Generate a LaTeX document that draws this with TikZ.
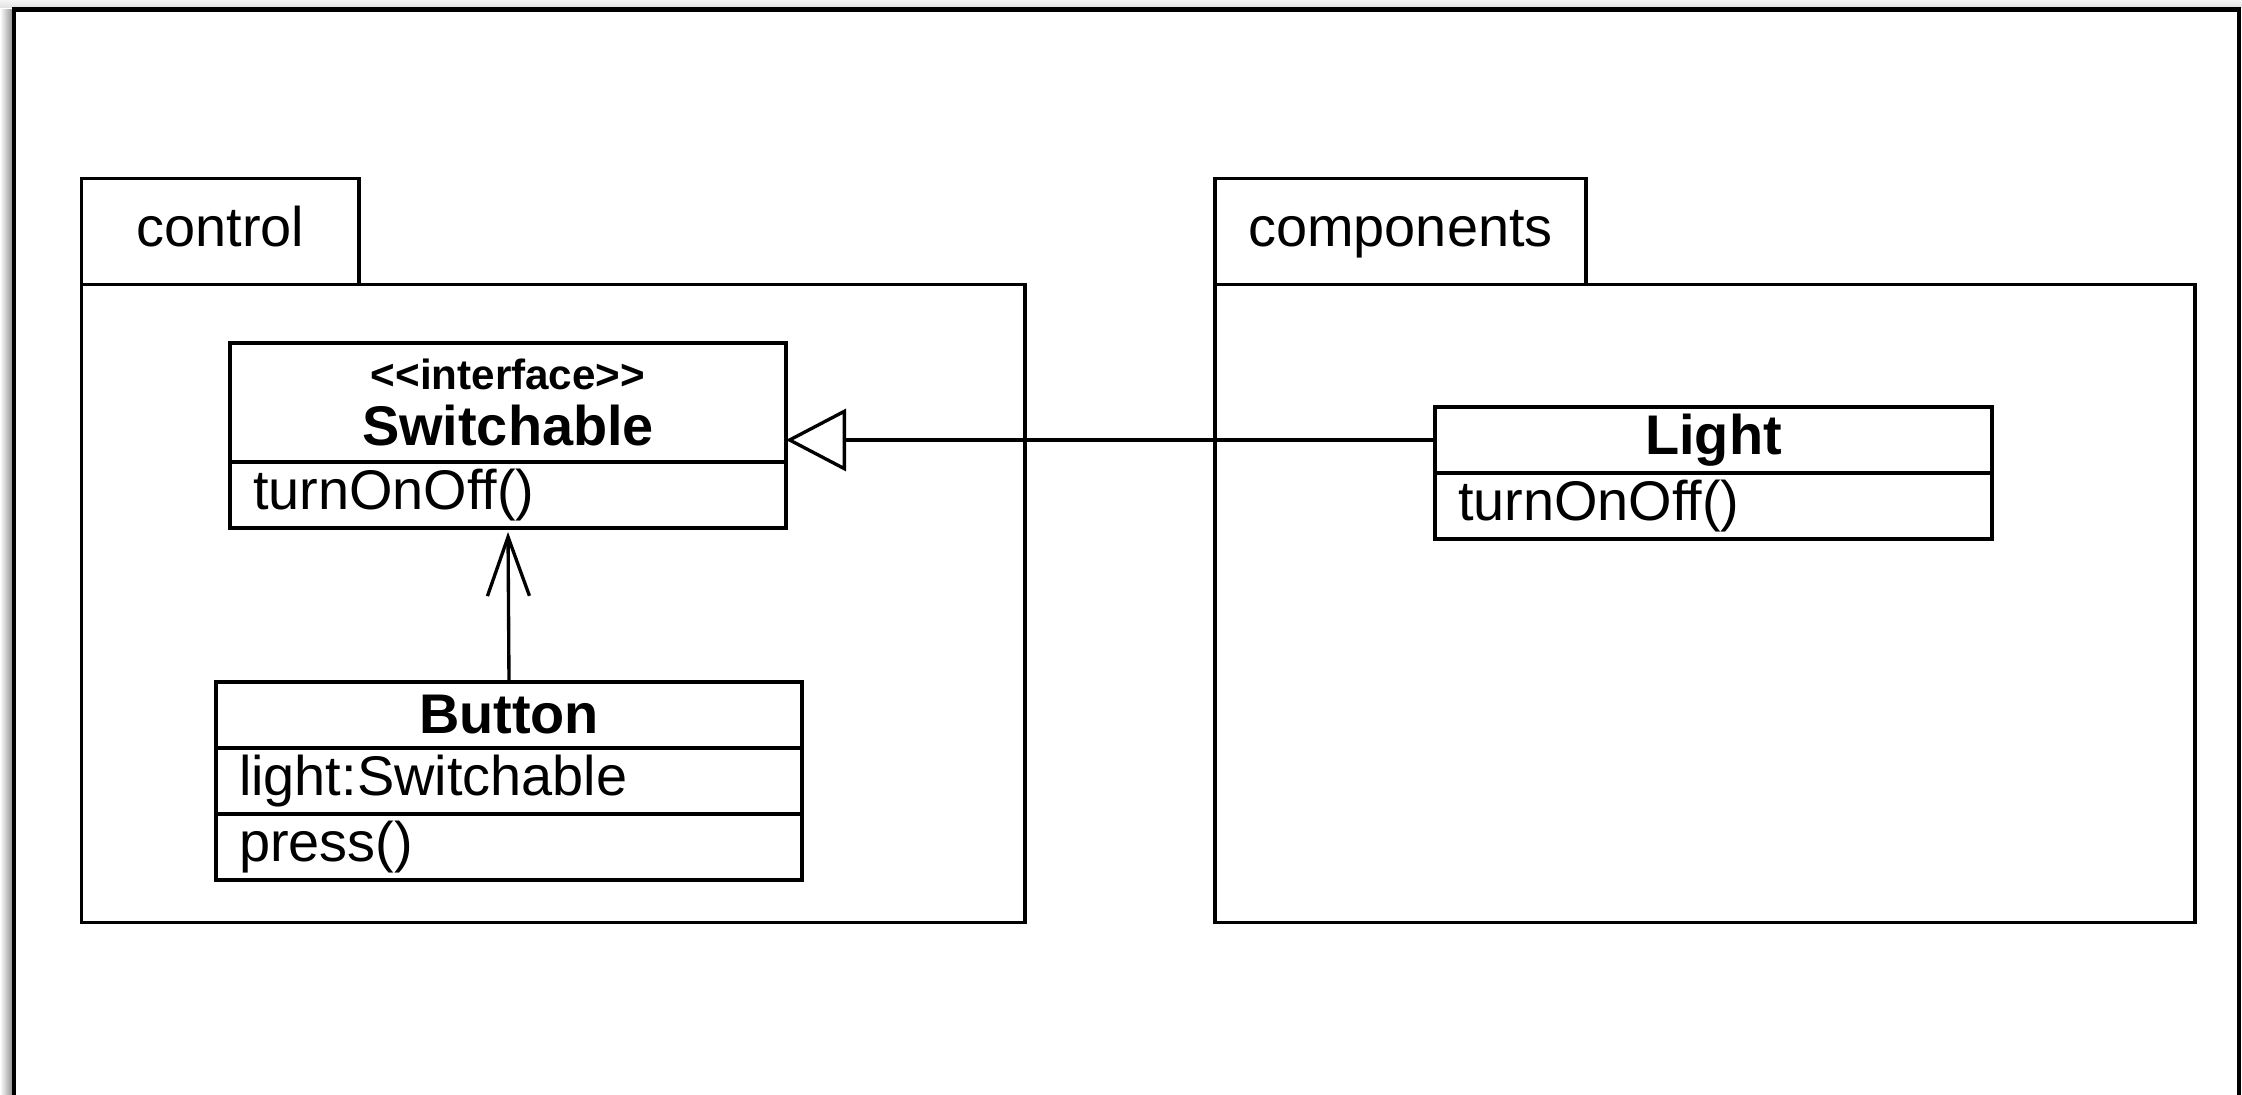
\documentclass[tikz,border=0pt]{standalone}
\usepackage{fontspec}
\setmainfont{Liberation Sans}
\usetikzlibrary{positioning,arrows.meta}

\begin{document}
\begin{tikzpicture}[
  box/.style={draw, line width=0.95pt, inner sep=0pt, outer sep=0pt, font=\fontsize{15.9}{16}\selectfont},
  pkgtab/.style={box, minimum width=#1, minimum height=1.06cm, text height=0.41cm, text depth=0.12cm},
  pkgbody/.style={box, minimum width=#1, minimum height=6.375cm, anchor=north west},
  clshead/.style={box, font=\fontsize{15.9}{16}\selectfont\bfseries, align=center, minimum width=#1, minimum height=0.66cm},
  clsrow/.style={box, inner xsep=0.23cm, text width=#1, align=left, minimum height=0.66cm},
  gen/.style={line width=0.95pt, -{Triangle[open, length=0.6cm, width=0.62cm]}},
  dep/.style={line width=0.95pt, shorten >=0.04cm, -{Straight Barb[length=0.59cm, width=0.42cm]}}
]
\useasboundingbox (0,0) rectangle (22.42,-10.95);

% frame
\shade[left color=white, right color=black!45] (0,-0.1) rectangle (0.13,-10.95);
\shade[top color=black!4, bottom color=black!12] (0,0) rectangle (22.42,-0.08);
\draw[line width=1.4pt] (0.14,-11.5) |- (22.39,-0.095) -- (22.39,-11.5);

% package control
\node[pkgtab=2.775cm, anchor=north west] (ctrltab) at (0.815,-1.787) {control};
\node[pkgbody=9.435cm] (ctrlbody) at (ctrltab.south west) {};

% package components
\node[pkgtab=3.71cm, anchor=north west] (comptab) at (12.15,-1.787) {components};
\node[pkgbody=9.8cm] (compbody) at (comptab.south west) {};

% Switchable
\node[clshead=5.56cm, minimum height=1.19cm, anchor=north west] (swhead) at (2.30,-3.43)
  {{\fontsize{12}{13}\selectfont <{}<interface>{}>}\\ Switchable};
\node[clsrow=5.10cm, below=0pt of swhead] (swops) {turnOnOff()};

% Button
\node[clshead=5.86cm, anchor=north west] (btnhead) at (2.16,-6.82) {Button};
\node[clsrow=5.40cm, below=0pt of btnhead] (btnattr) {light:Switchable};
\node[clsrow=5.40cm, below=0pt of btnattr] (btnops) {press()};

% Light
\node[clshead=5.57cm, anchor=north west] (lthead) at (14.35,-4.07) {Light};
\node[clsrow=5.11cm, below=0pt of lthead] (ltops) {turnOnOff()};

% relations
\draw[gen] (lthead.west) -- (swhead.east |- lthead.west);
\draw[dep] (btnhead.north) -- (swops.south);
\end{tikzpicture}
\end{document}
